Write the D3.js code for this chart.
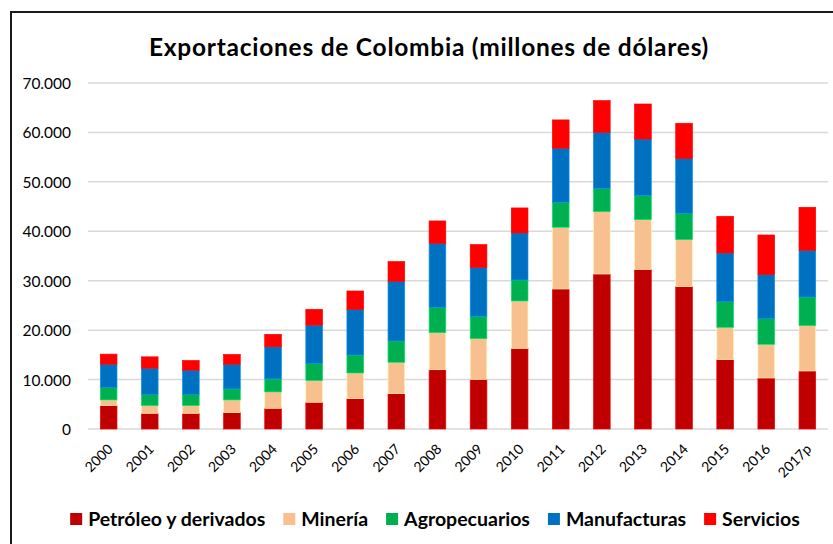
<!DOCTYPE html>
<html>
<head>
<meta charset="utf-8">
<script src="https://cdn.jsdelivr.net/npm/d3@7"></script>
<style>
  html, body { margin: 0; padding: 0; background: #fff; }
  svg { display: block; }
</style>
</head>
<body>
<svg id="chart" width="833" height="544"></svg>
<script>
// ---- data ----
const years = ["2000","2001","2002","2003","2004","2005","2006","2007","2008","2009","2010","2011","2012","2013","2014","2015","2016","2017p"];
const petroleo     = [4730, 3180, 3180, 3310, 4190, 5410, 6140, 7150, 12000, 10050, 16320, 28330, 31360, 32300, 28800, 14030, 10320, 11740];
const mineria      = [1150, 1550, 1550, 2570, 3310, 4390, 5190, 6340, 7490, 8230, 9580, 12480, 12610, 10050, 9510, 6540, 6810, 9170];
const agropecuarios= [2500, 2230, 2230, 2230, 2640, 3450, 3640, 4320, 5130, 4520, 4250, 5060, 4720, 4920, 5330, 5190, 5190, 5800];
const manufacturas = [4730, 5340, 4930, 5000, 6490, 7760, 9240, 12070, 12950, 9910, 9510, 10930, 11330, 11400, 11060, 9850, 8900, 9440];
const servicios    = [2030, 2300, 1960, 1960, 2510, 3200, 3710, 3980, 4520, 4590, 5060, 5730, 6410, 7080, 7150, 7420, 8030, 8700];
const seriesNames  = ["Petróleo y derivados", "Minería", "Agropecuarios", "Manufacturas", "Servicios"];
const seriesColors = ["#C00000", "#F8C08E", "#00B050", "#0070C0", "#FF0000"];
const yTicks = [0, 10000, 20000, 30000, 40000, 50000, 60000, 70000];
const title = "Exportaciones de Colombia (millones de dólares)";

const seriesValues = [petroleo, mineria, agropecuarios, manufacturas, servicios];
const table = years.map((y, i) => {
  const row = { year: y };
  seriesNames.forEach((s, k) => row[s] = seriesValues[k][i]);
  return row;
});

const svg = d3.select("#chart");
const FONT = "Lato, 'Open Sans', sans-serif";

// frame
svg.append("path").attr("d", "M11,544 L11,12 L833,12")
  .attr("fill", "none").attr("stroke", "#1a1a1a").attr("stroke-width", 2);

const x = d3.scaleBand().domain(years).range([88, 828]).paddingInner(0.595).paddingOuter(0.3);
const y = d3.scaleLinear().domain([0, 70000]).range([429, 83]);

// gridlines
svg.append("g").selectAll("line").data(yTicks).join("line")
  .attr("x1", 88).attr("x2", 828)
  .attr("y1", d => y(d)).attr("y2", d => y(d))
  .attr("stroke", "#d9d9d9").attr("stroke-width", 1.5);

// y axis labels
const fmt = d => d === 0 ? "0" : d3.format(",")(d).replace(/,/g, ".");
const yAxis = d3.axisLeft(y).tickValues(yTicks).tickFormat(fmt).tickSize(0).tickPadding(0);
const yg = svg.append("g").attr("transform", "translate(71,0)").call(yAxis);
yg.select(".domain").remove();
yg.selectAll("text").attr("font-family", FONT).attr("font-size", 15.5).attr("fill", "#000").attr("dy", "0.35em");

// stacked bars
const stack = d3.stack().keys(seriesNames);
const stacked = stack(table);
svg.append("g").selectAll("g").data(stacked).join("g")
  .attr("fill", (d, i) => seriesColors[i])
  .attr("stroke", (d, i) => d3.color(seriesColors[i]).brighter(0.7))
  .attr("stroke-width", 0.7)
  .selectAll("rect").data(d => d).join("rect")
  .attr("x", d => x(d.data.year))
  .attr("width", x.bandwidth())
  .attr("y", d => y(d[1]))
  .attr("height", d => y(d[0]) - y(d[1]));

// x labels
const xAxis = d3.axisBottom(x).tickSize(0);
const xg = svg.append("g").attr("transform", "translate(0,429)").call(xAxis);
xg.select(".domain").remove();
xg.selectAll("text")
  .attr("font-family", FONT).attr("font-size", 14).attr("fill", "#000")
  .attr("text-anchor", "end")
  .attr("dy", 0).attr("y", 0)
  .attr("transform", "translate(5,21) rotate(-45)");

// title
svg.append("text").attr("x", 429).attr("y", 56).attr("text-anchor", "middle")
  .attr("font-family", FONT).attr("font-weight", "bold").attr("font-size", 24.5)
  .attr("letter-spacing", 0.75)
  .attr("fill", "#000").text(title);

// legend
const lg = svg.append("g");
let cx = 0;
const GAP = 18;
seriesNames.forEach((s, i) => {
  const g = lg.append("g");
  g.append("rect").attr("x", 0).attr("y", -13).attr("width", 12).attr("height", 12).attr("fill", seriesColors[i]);
  const t = g.append("text").attr("x", 18).attr("y", 0)
    .attr("font-family", FONT).attr("font-weight", "bold").attr("font-size", 19.5)
    .attr("fill", "#000").text(s);
  const w = 18 + t.node().getComputedTextLength();
  g.attr("transform", `translate(${cx},0)`);
  cx += w + GAP;
});
const totalW = cx - GAP;
lg.attr("transform", `translate(${435 - totalW / 2},526)`);
</script>
</body>
</html>
